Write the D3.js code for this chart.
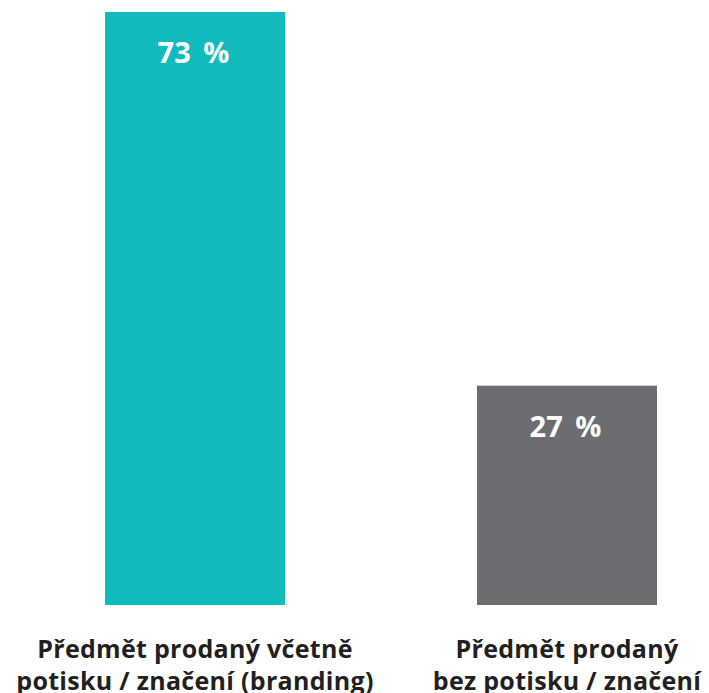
<!DOCTYPE html>
<html>
<head>
<meta charset="utf-8">
<script src="https://cdn.jsdelivr.net/npm/d3@7"></script>
<style>
  html, body { margin: 0; padding: 0; background: #ffffff; }
  svg { display: block; }
</style>
</head>
<body>
<svg id="chart" width="709" height="693"></svg>
<script>
// Share of items sold with / without branding
const categories = [
  ["Předmět prodaný včetně", "potisku / značení (branding)"],
  ["Předmět prodaný", "bez potisku / značení"]
];
const values = [73, 27];
const valueLabels = ["73 %", "27 %"];
const colors = ["#12BBBB", "#6C6D71"];

const svg = d3.select("#chart");
const baseY = 605;

// two bar slots, each 180 px wide, starting at x = 105 and x = 477
const x = d3.scaleBand()
  .domain(d3.range(values.length))
  .range([105, 657])
  .paddingInner(192 / 372)
  .paddingOuter(0);

const y = d3.scaleLinear().domain([0, 73]).range([baseY, 12]);

const font = "'Open Sans', 'Noto Sans', sans-serif";

svg.selectAll("rect.bar")
  .data(values)
  .join("rect")
  .attr("class", "bar")
  .attr("x", (d, i) => x(i))
  .attr("width", x.bandwidth())
  .attr("y", d => y(d))
  .attr("height", d => baseY - y(d))
  .attr("fill", (d, i) => colors[i]);

svg.selectAll("text.val")
  .data(values)
  .join("text")
  .attr("class", "val")
  .attr("x", (d, i) => x(i) + x.bandwidth() / 2 - 1.5)
  .attr("y", d => y(d) + 51)
  .attr("text-anchor", "middle")
  .attr("font-family", font)
  .attr("font-weight", 700)
  .attr("font-size", 29)
  .attr("word-spacing", 5)
  .attr("fill", "#ffffff")
  .text((d, i) => valueLabels[i]);

const cat = svg.selectAll("text.cat")
  .data(categories)
  .join("text")
  .attr("class", "cat")
  .attr("text-anchor", "middle")
  .attr("font-family", font)
  .attr("font-weight", 700)
  .attr("font-size", 25)
  .attr("letter-spacing", 0.3)
  .attr("fill", "#231F20");

cat.selectAll("tspan")
  .data((d, i) => d.map(t => ({ t, i })))
  .join("tspan")
  .attr("x", d => x(d.i) + x.bandwidth() / 2)
  .attr("y", (d, j) => 658 + j * 32)
  .text(d => d.t);
</script>
</body>
</html>
